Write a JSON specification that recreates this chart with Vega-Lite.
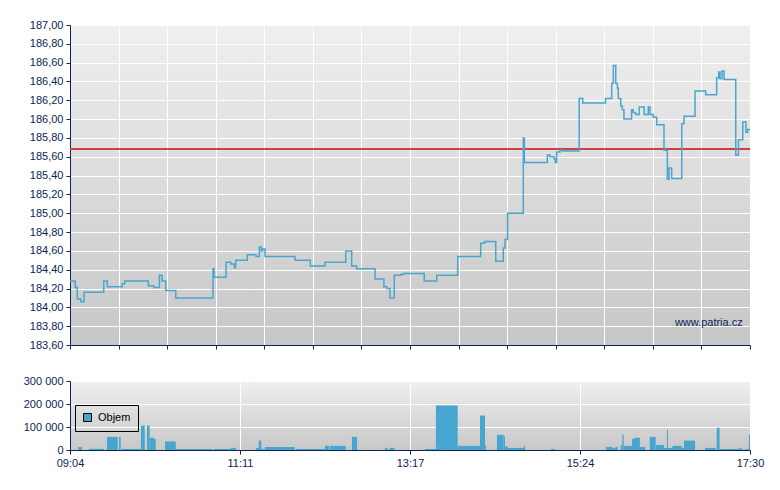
{
  "$schema": "https://vega.github.io/schema/vega-lite/v6.json",
  "background": "white",
  "padding": {"left": 23, "top": 19, "right": 10, "bottom": 5},
  "bounds": "flush",
  "spacing": 36,
  "resolve": {"scale": {"color": "independent"}, "legend": {"color": "independent"}},
  "config": {
    "font": "Liberation Sans",
    "axis": {
      "labelFont": "Liberation Sans",
      "labelFontSize": 11,
      "labelColor": "#0b2555",
      "labelOverlap": false,
      "labelFlush": false,
      "domainColor": "#0b2555",
      "domainWidth": 1,
      "tickColor": "#0b2555",
      "tickSize": 4,
      "tickWidth": 1,
      "tickCount": 40,
      "gridColor": "#ffffff",
      "gridOpacity": 1,
      "gridWidth": 1,
      "title": null
    },
    "view": {"stroke": null}
  },
  "datasets": {
    "price": [
      {"t": 544, "p": 184.28}, {"t": 547.9, "p": 184.21}, {"t": 549.4, "p": 184.09}, {"t": 552.0, "p": 184.06},
      {"t": 554.4, "p": 184.16}, {"t": 569.1, "p": 184.28}, {"t": 571.8, "p": 184.22}, {"t": 582.9, "p": 184.25},
      {"t": 584.7, "p": 184.28}, {"t": 602.3, "p": 184.23}, {"t": 606.5, "p": 184.21}, {"t": 610.5, "p": 184.34},
      {"t": 612.5, "p": 184.28}, {"t": 615.2, "p": 184.18}, {"t": 622.7, "p": 184.10}, {"t": 650.4, "p": 184.41},
      {"t": 651.2, "p": 184.32}, {"t": 660.1, "p": 184.48}, {"t": 663.6, "p": 184.46}, {"t": 666.3, "p": 184.42},
      {"t": 667.3, "p": 184.50}, {"t": 675.9, "p": 184.56}, {"t": 682.4, "p": 184.54}, {"t": 684.9, "p": 184.64},
      {"t": 686.3, "p": 184.60}, {"t": 687.4, "p": 184.62}, {"t": 689.1, "p": 184.54}, {"t": 711.4, "p": 184.50},
      {"t": 722.8, "p": 184.44}, {"t": 733.7, "p": 184.48}, {"t": 749.2, "p": 184.60}, {"t": 753.6, "p": 184.44},
      {"t": 757.3, "p": 184.41}, {"t": 771.0, "p": 184.30}, {"t": 777.6, "p": 184.22}, {"t": 779.7, "p": 184.20},
      {"t": 782.1, "p": 184.10}, {"t": 785.3, "p": 184.34}, {"t": 790.1, "p": 184.35}, {"t": 792.0, "p": 184.36},
      {"t": 807.6, "p": 184.28}, {"t": 816.9, "p": 184.34}, {"t": 832.5, "p": 184.54}, {"t": 849.6, "p": 184.68},
      {"t": 852.6, "p": 184.70}, {"t": 860.8, "p": 184.49}, {"t": 866.4, "p": 184.63}, {"t": 867.7, "p": 184.72},
      {"t": 869.6, "p": 185.00}, {"t": 881.3, "p": 185.80}, {"t": 882.1, "p": 185.54}, {"t": 899.2, "p": 185.62},
      {"t": 901.2, "p": 185.60}, {"t": 904.1, "p": 185.58}, {"t": 905.1, "p": 185.54}, {"t": 906.1, "p": 185.65},
      {"t": 908.6, "p": 185.67}, {"t": 910.6, "p": 185.66}, {"t": 922.9, "p": 186.22}, {"t": 925.5, "p": 186.17},
      {"t": 942.5, "p": 186.22}, {"t": 947.1, "p": 186.38}, {"t": 948.3, "p": 186.57}, {"t": 950.1, "p": 186.38},
      {"t": 951.3, "p": 186.33}, {"t": 952.0, "p": 186.22}, {"t": 953.8, "p": 186.14}, {"t": 955.0, "p": 186.10},
      {"t": 956.2, "p": 186.00}, {"t": 961.9, "p": 186.10}, {"t": 963.1, "p": 186.07}, {"t": 964.9, "p": 186.05},
      {"t": 967.6, "p": 186.13}, {"t": 971.3, "p": 186.05}, {"t": 974.3, "p": 186.13}, {"t": 975.6, "p": 186.05},
      {"t": 978.0, "p": 186.02}, {"t": 980.6, "p": 185.94}, {"t": 986.0, "p": 185.67}, {"t": 988.5, "p": 185.36},
      {"t": 989.7, "p": 185.48}, {"t": 991.7, "p": 185.37}, {"t": 999.2, "p": 185.95}, {"t": 1000.9, "p": 186.03},
      {"t": 1009.1, "p": 186.30}, {"t": 1017.0, "p": 186.26}, {"t": 1025.2, "p": 186.44}, {"t": 1026.7, "p": 186.50},
      {"t": 1027.7, "p": 186.43}, {"t": 1029.2, "p": 186.51}, {"t": 1030.7, "p": 186.42}, {"t": 1039.4, "p": 185.62},
      {"t": 1041.4, "p": 185.78}, {"t": 1044.6, "p": 185.97}, {"t": 1047.0, "p": 185.86}, {"t": 1048.3, "p": 185.89},
      {"t": 1050, "p": 185.89}
    ],
    "volume": [
      {"t0": 550.0, "t1": 552.9, "v": 13000}, {"t0": 558.1, "t1": 569.1, "v": 5000}, {"t0": 571.5, "t1": 579.5, "v": 57000},
      {"t0": 580.5, "t1": 581.7, "v": 57000}, {"t0": 582.7, "t1": 596.6, "v": 4500}, {"t0": 596.8, "t1": 599.6, "v": 106000},
      {"t0": 601.3, "t1": 603.3, "v": 106000}, {"t0": 603.3, "t1": 606.5, "v": 53000}, {"t0": 606.5, "t1": 607.8, "v": 48000},
      {"t0": 614.7, "t1": 622.7, "v": 37000}, {"t0": 622.7, "t1": 650.2, "v": 4500}, {"t0": 651.2, "t1": 663.6, "v": 4500},
      {"t0": 663.6, "t1": 667.5, "v": 9000}, {"t0": 682.4, "t1": 684.4, "v": 9000}, {"t0": 684.4, "t1": 686.3, "v": 41000},
      {"t0": 686.3, "t1": 689.1, "v": 4500}, {"t0": 689.1, "t1": 711.2, "v": 13000}, {"t0": 712.2, "t1": 733.7, "v": 4500},
      {"t0": 733.7, "t1": 736.9, "v": 18000}, {"t0": 737.5, "t1": 749.2, "v": 18000}, {"t0": 753.8, "t1": 757.6, "v": 57000},
      {"t0": 778.4, "t1": 780.1, "v": 9000}, {"t0": 780.1, "t1": 781.6, "v": 4000}, {"t0": 782.1, "t1": 785.6, "v": 9000},
      {"t0": 808.2, "t1": 816.3, "v": 4500}, {"t0": 816.3, "t1": 832.5, "v": 194000}, {"t0": 832.5, "t1": 849.1, "v": 18000},
      {"t0": 849.1, "t1": 852.8, "v": 150000}, {"t0": 852.8, "t1": 853.5, "v": 18000}, {"t0": 861.7, "t1": 866.7, "v": 66000},
      {"t0": 866.7, "t1": 867.7, "v": 59000}, {"t0": 867.7, "t1": 869.7, "v": 16000}, {"t0": 869.7, "t1": 881.8, "v": 9000},
      {"t0": 881.8, "t1": 882.6, "v": 18000}, {"t0": 901.9, "t1": 904.9, "v": 4500}, {"t0": 942.8, "t1": 947.5, "v": 13000},
      {"t0": 947.5, "t1": 949.8, "v": 9000}, {"t0": 949.8, "t1": 951.5, "v": 13000}, {"t0": 953.8, "t1": 955.0, "v": 22000},
      {"t0": 955.0, "t1": 956.0, "v": 66000}, {"t0": 956.0, "t1": 962.2, "v": 18000}, {"t0": 962.2, "t1": 963.7, "v": 48000},
      {"t0": 963.7, "t1": 968.1, "v": 53000}, {"t0": 968.1, "t1": 971.9, "v": 13000}, {"t0": 975.4, "t1": 979.8, "v": 57000},
      {"t0": 979.8, "t1": 986.0, "v": 22000}, {"t0": 986.0, "t1": 988.2, "v": 9000}, {"t0": 988.2, "t1": 989.0, "v": 88000},
      {"t0": 989.0, "t1": 992.2, "v": 9000}, {"t0": 992.2, "t1": 999.2, "v": 18000}, {"t0": 999.2, "t1": 1000.9, "v": 9000},
      {"t0": 1000.9, "t1": 1009.1, "v": 41000}, {"t0": 1016.5, "t1": 1024.5, "v": 9000}, {"t0": 1025.2, "t1": 1027.4, "v": 97000},
      {"t0": 1027.4, "t1": 1030.7, "v": 4500}, {"t0": 1030.7, "t1": 1042.0, "v": 4500}, {"t0": 1042.0, "t1": 1043.8, "v": 9000},
      {"t0": 1043.8, "t1": 1047.2, "v": 2000}, {"t0": 1047.2, "t1": 1049.2, "v": 4500}, {"t0": 1049.2, "t1": 1050, "v": 66000}
    ]
  },
  "vconcat": [
    {
      "width": 680,
      "height": 320,
      "view": {
        "stroke": null,
        "fill": {"gradient": "linear", "x1": 0, "y1": 0, "x2": 0, "y2": 1,
          "stops": [{"offset": 0, "color": "#efefef"}, {"offset": 1, "color": "#c7c7c7"}]}
      },
      "layer": [
        {
          "data": {"name": "price"},
          "mark": {"type": "rule", "color": "#cc4444", "strokeWidth": 1, "opacity": 0.8},
          "encoding": {"y": {"datum": 185.68, "type": "quantitative"}}
        },
        {
          "data": {"name": "price"},
          "mark": {"type": "line", "interpolate": "step-after", "color": "#4aa5cf", "strokeWidth": 1.5},
          "encoding": {
            "x": {
              "field": "t", "type": "quantitative",
              "scale": {"domain": [544, 1050], "nice": false, "zero": false},
              "axis": {
                "values": [544, 580.143, 616.286, 652.429, 688.571, 724.714, 760.857, 797, 833.143, 869.286, 905.429, 941.571, 977.714, 1013.857, 1050],
                "tickCount": 40,
                "labels": false, "grid": true, "ticks": true
              }
            },
            "y": {
              "field": "p", "type": "quantitative",
              "scale": {"domain": [183.6, 187], "nice": false, "zero": false},
              "axis": {
                "values": [183.6, 183.8, 184.0, 184.2, 184.4, 184.6, 184.8, 185.0, 185.2, 185.4, 185.6, 185.8, 186.0, 186.2, 186.4, 186.6, 186.8, 187.0],
                "tickCount": 40,
                "labelExpr": "replace(format(datum.value, '.2f'), '.', ',')",
                "labelPadding": 3, "grid": true
              }
            }
          }
        },
        {
          "data": {"values": [{"label": "www.patria.cz"}]},
          "mark": {"type": "text", "align": "right", "baseline": "middle", "font": "Liberation Sans", "fontSize": 11, "color": "#0b2555"},
          "encoding": {
            "x": {"datum": 1044.6, "type": "quantitative"},
            "y": {"datum": 183.83, "type": "quantitative"},
            "text": {"field": "label"}
          }
        }
      ]
    },
    {
      "width": 680,
      "height": 69,
      "view": {
        "stroke": null,
        "fill": {"gradient": "linear", "x1": 0, "y1": 0, "x2": 0, "y2": 1,
          "stops": [{"offset": 0, "color": "#efefef"}, {"offset": 1, "color": "#c8c8c8"}]}
      },
      "data": {"name": "volume"},
      "mark": {"type": "rect"},
      "encoding": {
        "x": {
          "field": "t0", "type": "quantitative",
          "scale": {"domain": [544, 1050], "nice": false, "zero": false},
          "axis": {
            "values": [544, 670.5, 797, 923.5, 1050],
            "tickCount": 40,
            "labelExpr": "(floor(round(datum.value)/60) < 10 ? '0' : '') + floor(round(datum.value)/60) + ':' + (round(datum.value) % 60 < 10 ? '0' : '') + (round(datum.value) % 60)",
            "labelPadding": 3, "grid": true
          }
        },
        "x2": {"field": "t1"},
        "y": {
          "field": "v", "type": "quantitative",
          "scale": {"domain": [0, 300000], "nice": false},
          "axis": {
            "values": [0, 100000, 200000, 300000],
            "tickCount": 40,
            "labelExpr": "replace(format(datum.value, ',d'), ',', ' ')",
            "labelPadding": 3, "grid": true
          }
        },
        "y2": {"datum": 0},
        "color": {
          "datum": "Objem",
          "scale": {"range": ["#47a6cf"]},
          "legend": {
            "title": null, "orient": "none", "legendX": 5, "legendY": 24,
            "strokeColor": "#000000", "padding": 7,
            "symbolType": "square", "symbolSize": 64, "symbolStrokeColor": "#000000", "symbolStrokeWidth": 1,
            "symbolOpacity": 1,
            "labelFont": "Liberation Sans", "labelFontSize": 11, "labelColor": "#000000", "labelOffset": 5
          }
        }
      }
    }
  ]
}
